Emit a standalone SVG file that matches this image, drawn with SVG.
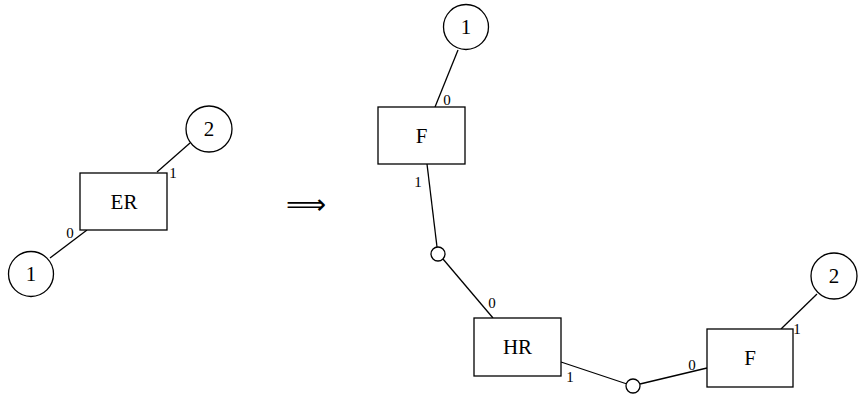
<svg xmlns="http://www.w3.org/2000/svg" width="859" height="402" viewBox="0 0 859 402">
<style>
.box{fill:#fff;stroke:#000;stroke-width:1.3}
.node{fill:#fff;stroke:#000;stroke-width:1.3}
.dot{fill:#fff;stroke:#000;stroke-width:1.3}
.edge{stroke:#000;stroke-width:1.3;fill:none}
.lbl{font-family:"Liberation Serif",serif;font-size:21px;text-anchor:middle;fill:#000}
.port{font-family:"Liberation Serif",serif;font-size:15px;text-anchor:middle;fill:#000}
.sym{font-family:"DejaVu Sans",sans-serif;font-size:28px;text-anchor:middle;fill:#000}
</style>
<g id="connectors">
<line class="edge" x1="190" y1="143" x2="157" y2="172"/>
<line class="edge" x1="87" y1="230" x2="50" y2="258"/>
<line class="edge" x1="458" y1="50" x2="435" y2="107"/>
<line class="edge" x1="427" y1="164" x2="437" y2="247"/>
<line class="edge" x1="443" y1="259" x2="493" y2="318"/>
<line class="edge" x1="561" y1="362" x2="627" y2="384"/>
<line class="edge" x1="640" y1="384" x2="707" y2="368"/>
<line class="edge" x1="817" y1="294" x2="781" y2="329"/>
</g>
<g id="left-ER">
<rect class="box" x="80" y="173" width="87" height="57"/>
<text class="lbl" x="124" y="209">ER</text>
</g>
<g id="left-c2">
<circle class="node" cx="209" cy="129" r="23"/>
<text class="lbl" x="209" y="136">2</text>
</g>
<g id="left-c1">
<circle class="node" cx="31" cy="274" r="22.5"/>
<text class="lbl" x="31" y="281">1</text>
</g>
<g id="left-ports">
<text class="port" x="173" y="178">1</text>
<text class="port" x="70" y="238">0</text>
</g>
<g id="implies">
<text class="sym" x="306" y="214">⟹</text>
</g>
<g id="right-c1">
<circle class="node" cx="466" cy="27" r="22.5"/>
<text class="lbl" x="466" y="34">1</text>
</g>
<g id="right-F1">
<rect class="box" x="378" y="107" width="87" height="57"/>
<text class="lbl" x="421.5" y="143">F</text>
</g>
<g id="dot1"><circle class="dot" cx="438" cy="254" r="7"/></g>
<g id="right-HR">
<rect class="box" x="474" y="318" width="87" height="58"/>
<text class="lbl" x="517.5" y="354">HR</text>
</g>
<g id="dot2"><circle class="dot" cx="633" cy="386" r="7"/></g>
<g id="right-F2">
<rect class="box" x="707" y="329" width="86" height="58"/>
<text class="lbl" x="750" y="365">F</text>
</g>
<g id="right-c2">
<circle class="node" cx="834" cy="276" r="23"/>
<text class="lbl" x="834" y="283">2</text>
</g>
<g id="right-ports">
<text class="port" x="447" y="105">0</text>
<text class="port" x="418" y="187">1</text>
<text class="port" x="492" y="308">0</text>
<text class="port" x="570" y="382">1</text>
<text class="port" x="692" y="370">0</text>
<text class="port" x="797" y="334">1</text>
</g>
</svg>
